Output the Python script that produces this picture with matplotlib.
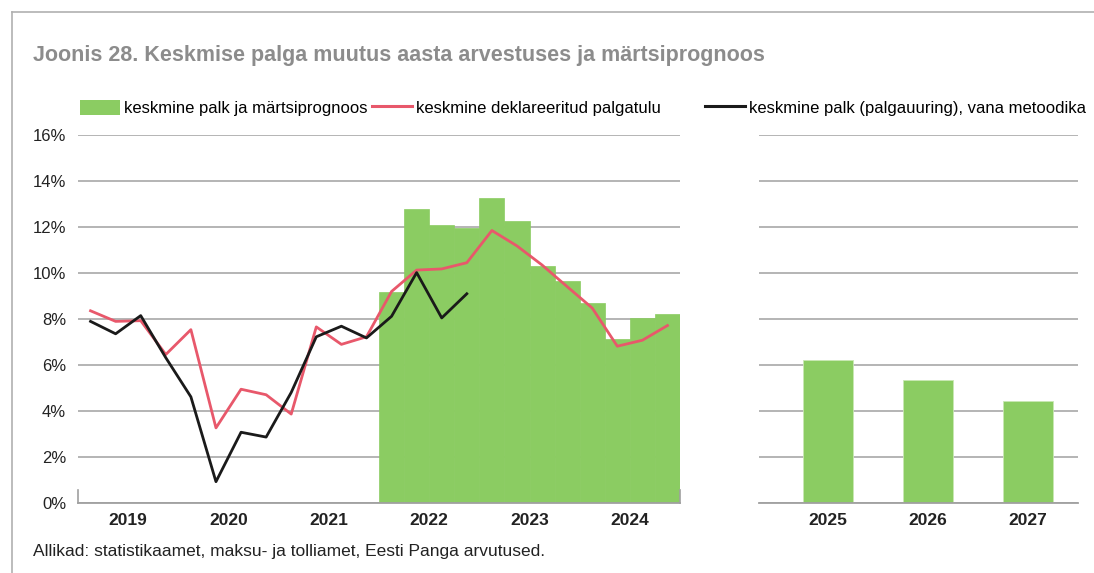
import matplotlib.pyplot as plt
import numpy as np
from matplotlib.lines import Line2D
from matplotlib.patches import Patch

plt.rcParams['font.family'] = ['Liberation Sans', 'DejaVu Sans']

GREEN = '#8bcc62'
RED = '#e8586b'
BLACK = '#1a1a1a'
GRID = '#a0a0a0'

years = ['2019', '2020', '2021', '2022', '2023', '2024']
# quarterly series, 2019Q1 .. 2024Q4
declared = [8.37, 7.91, 7.94, 6.47, 7.55, 3.28, 4.96, 4.72, 3.88, 7.67, 6.91, 7.24,
            9.21, 10.14, 10.19, 10.46, 11.86, 11.19, 10.36, 9.42, 8.49, 6.83, 7.09, 7.73]
old_method = [7.91, 7.37, 8.16, 6.33, 4.63, 0.94, 3.09, 2.88, 4.82, 7.24, 7.70, 7.19,
              8.13, 10.03, 8.06, 9.11]
# average wage bars, 2022Q1 .. 2024Q4
avg_wage = [9.17, 12.78, 12.09, 11.99, 13.27, 12.27, 10.33, 9.67, 8.71, 7.15, 8.04, 8.22]
fc_years = ['2025', '2026', '2027']
fc_values = [6.23, 5.34, 4.45]

fig = plt.figure(figsize=(10.94, 5.73), dpi=100)

ax1 = fig.add_axes([0.0713, 0.1216, 0.5503, 0.6423])
ax2 = fig.add_axes([0.6938, 0.1216, 0.2916, 0.6423])

for ax in (ax1, ax2):
    ax.set_ylim(0, 16)
    ax.set_yticks(np.arange(0, 17, 2))
    ax.yaxis.grid(True, color=GRID, linewidth=1.1)
    ax.set_axisbelow(True)
    for s in ax.spines.values():
        s.set_visible(False)
    ax.spines['bottom'].set_visible(True)
    ax.spines['bottom'].set_color(GRID)
    ax.spines['bottom'].set_linewidth(1.3)
    ax.tick_params(axis='y', length=0, labelsize=12, colors='#222222', pad=8.5)
    ax.tick_params(axis='x', length=0, pad=7)

ax1.set_yticklabels([f'{v}%' for v in range(0, 17, 2)])
ax2.set_yticklabels([])

n = len(declared)
x = np.arange(n)
bar_x = np.arange(n - len(avg_wage), n)
ax1.bar(bar_x, avg_wage, width=1.0, color=GREEN, edgecolor=GREEN, linewidth=0.5, zorder=2)
ax1.plot(x, declared, color=RED, linewidth=2.0, zorder=3)
ax1.plot(np.arange(len(old_method)), old_method, color=BLACK, linewidth=2.0, zorder=4)
ax1.set_xlim(-0.5, n - 0.5)
ax1.set_xticks(np.arange(1.5, n, 4))
ax1.set_xticklabels(years, fontweight='bold', fontsize=12.5, color='#222222')
for xe in (-0.5, n - 0.5):
    ax1.plot([xe, xe], [0, 0.6], color=GRID, linewidth=1.2, clip_on=False, zorder=5)

fx = np.arange(len(fc_years))
ax2.bar(fx, fc_values, width=0.5, color=GREEN, edgecolor='#c9e8b4', linewidth=0.6, zorder=2)
ax2.set_xlim(-0.69, 2.5)
ax2.set_xticks(fx)
ax2.set_xticklabels(fc_years, fontweight='bold', fontsize=12.5, color='#222222')

fig.text(0.030, 0.903, 'Joonis 28. Keskmise palga muutus aasta arvestuses ja märtsiprognoos',
         fontsize=15.5, fontweight='bold', color='#8c8c8c', va='center')
fig.text(0.030, 0.037, 'Allikad: statistikaamet, maksu- ja tolliamet, Eesti Panga arvutused.',
         fontsize=12.5, color='#222222', va='center')

handles = [Patch(facecolor=GREEN, edgecolor='none'),
           Line2D([], [], color=RED, linewidth=2.2),
           Line2D([], [], color=BLACK, linewidth=2.2)]
labels = ['keskmine palk ja märtsiprognoos', 'keskmine deklareeritud palgatulu',
          'keskmine palk (palgauuring), vana metoodika']
starts = [80, 372, 705]
for h, lab, px in zip(handles, labels, starts):
    leg = fig.legend([h], [lab], loc='center left', bbox_to_anchor=(px / 1094, 0.812),
                     frameon=False, fontsize=12, handlelength=2.4, handleheight=1.0,
                     handletextpad=0.25, borderpad=0, borderaxespad=0)

# frame lines (top and left)
fig.add_artist(Line2D([0.011, 1.0], [0.979, 0.979], color='#b0b0b0', linewidth=1.2))
fig.add_artist(Line2D([0.011, 0.011], [0.0, 0.979], color='#b0b0b0', linewidth=1.2))

fig.savefig('out.png', dpi=100)
